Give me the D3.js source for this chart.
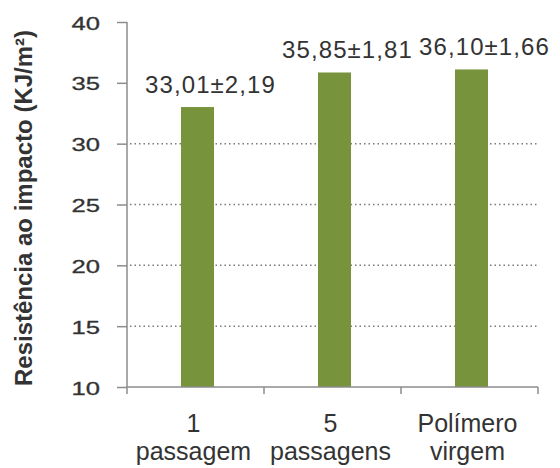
<!DOCTYPE html>
<html><head><meta charset="utf-8">
<script src="https://cdn.jsdelivr.net/npm/d3@7"></script>
<style>body{margin:0;background:#fff}svg{display:block}</style>
</head><body>
<svg id="c" width="560" height="468"></svg>
<script>
const categories = [["1","passagem"],["5","passagens"],["Polímero","virgem"]];
const values = [33.01, 35.85, 36.10];
const errors = [2.19, 1.81, 1.66];
const valueLabels = ["33,01±2,19","35,85±1,81","36,10±1,66"];
const yTicks = [10,15,20,25,30,35,40];
const gridValues = [15,20,25,30];
const yTitle = "Resistência ao impacto (KJ/m²)";

const svg = d3.select("#c");
const mLeft = 127, mRight = 538, mTop = 22, mBottom = 387;
const font = "'Liberation Sans', Arial, sans-serif";
const axisCol = "#8c8c8c", textCol = "#333";

const y = d3.scaleLinear().domain([10,40]).range([mBottom, mTop]);
const x = d3.scaleBand().domain(d3.range(categories.length)).range([mLeft, mRight]).padding(0);
const bw = 33;

// gridlines
svg.append("g").selectAll("line").data(gridValues).join("line")
  .attr("x1", mLeft + 3).attr("x2", mRight).attr("y1", d => y(d)).attr("y2", d => y(d))
  .attr("stroke", "#7a7a7a").attr("stroke-width", 1.5).attr("stroke-dasharray", "1.5,3");

// bars
svg.append("g").selectAll("rect").data(values).join("rect")
  .attr("x", (d,i) => x(i) + x.bandwidth()/2 - bw/2 + 2)
  .attr("width", bw)
  .attr("y", d => y(d)).attr("height", d => mBottom - y(d))
  .attr("fill", "#77933c");

// y axis
const ya = svg.append("g").attr("transform", `translate(${mLeft},0)`)
  .call(d3.axisLeft(y).tickValues(yTicks).tickSize(10).tickPadding(0).tickFormat(d3.format("d")));
ya.select(".domain").attr("stroke", axisCol).attr("stroke-width", 1.5).attr("d", `M0,${mTop}V${mBottom}`);
ya.selectAll(".tick line").attr("stroke", axisCol).attr("stroke-width", 1.5);
ya.selectAll(".tick text")
  .attr("x", null).attr("dy", null)
  .attr("transform", "translate(-27,7) scale(1.35,1)")
  .attr("font-family", font).attr("font-size", 19).attr("fill", textCol)
  .attr("stroke", textCol).attr("stroke-width", 0.3);

// x axis
const xa = svg.append("g").attr("transform", `translate(0,${mBottom})`);
xa.append("line").attr("x1", mLeft).attr("x2", mRight).attr("stroke", axisCol).attr("stroke-width", 1.5);
xa.selectAll("line.t").data(d3.range(categories.length + 1)).join("line").attr("class","t")
  .attr("x1", i => mLeft + i * x.step()).attr("x2", i => mLeft + i * x.step())
  .attr("y1", 0).attr("y2", 7).attr("stroke", axisCol).attr("stroke-width", 1.5);

// category labels
const cl = svg.append("g").selectAll("text").data(categories).join("text")
  .attr("text-anchor", "middle").attr("font-family", font).attr("font-size", 25).attr("fill", textCol);
cl.append("tspan").attr("x", (d,i) => x(i) + x.bandwidth()/2 - 2).attr("y", 432).text(d => d[0]);
cl.append("tspan").attr("x", (d,i) => x(i) + x.bandwidth()/2 - 2).attr("y", 460).text(d => d[1]);

// value labels
svg.append("g").selectAll("text").data(values).join("text")
  .attr("x", (d,i) => x(i) + x.bandwidth()/2 + 15)
  .attr("y", d => y(d) - 14)
  .attr("text-anchor", "middle").attr("font-family", font).attr("font-size", 24)
  .attr("letter-spacing", 1.1).attr("fill", textCol)
  .text((d,i) => valueLabels[i]);

// y title
svg.append("text")
  .attr("transform", `translate(32,208) rotate(-90)`)
  .attr("text-anchor", "middle").attr("font-family", font).attr("font-size", 24)
  .attr("font-weight", "bold").attr("fill", textCol)
  .text(yTitle);
</script>
</body></html>
